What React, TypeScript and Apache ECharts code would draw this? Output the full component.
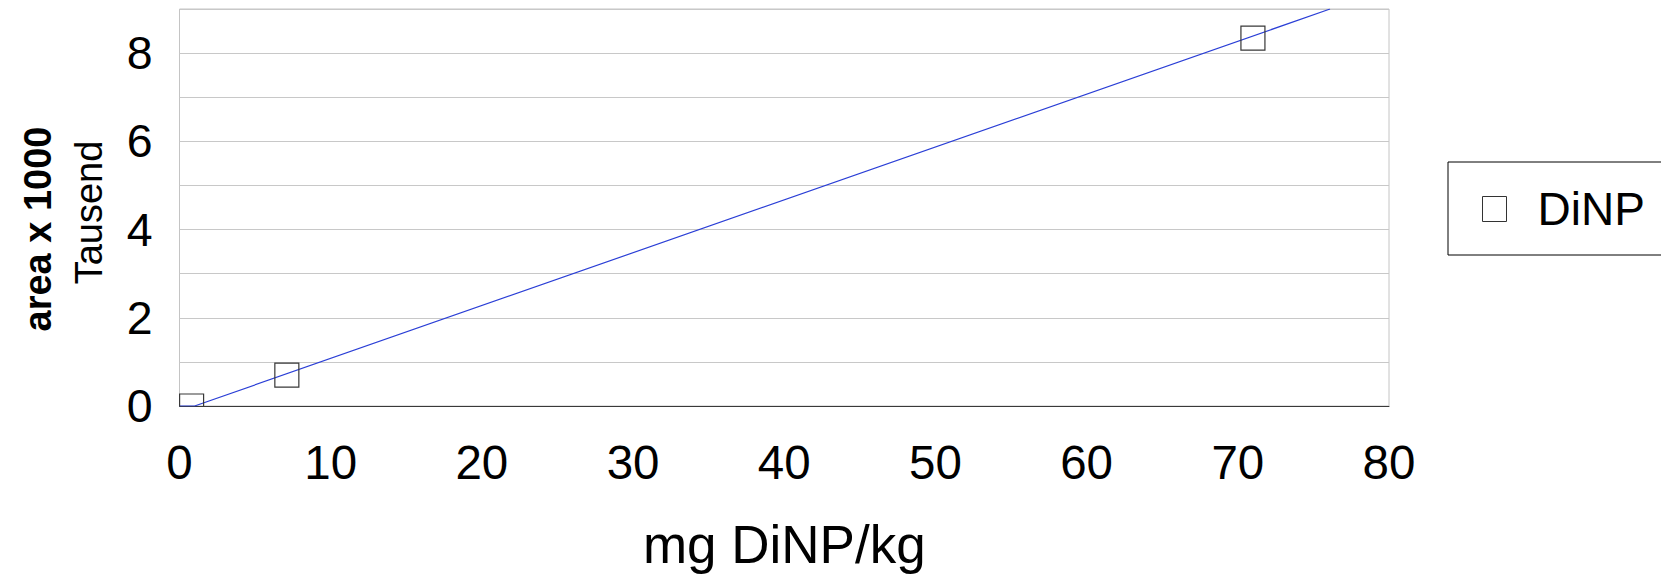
import React, { useEffect, useRef } from "react";
import * as echarts from "echarts";

// Measured points (mg DiNP/kg, area x 1000)
const markerX = [0.8, 7.1, 71.0];
const markerY = [0, 0.7, 8.34];

// Fitted line as drawn in the picture (visible segment)
const lineX = [0, 1.0, 76.1];
const lineY = [0, 0, 9.0];

const xTicks = [0, 10, 20, 30, 40, 50, 60, 70, 80];
const yLabelValues = [0, 2, 4, 6, 8];

const FONT = "'Liberation Sans', Arial, sans-serif";

export default function App() {
  const ref = useRef<HTMLDivElement>(null);

  useEffect(() => {
    if (!ref.current) return;
    const chart = echarts.init(ref.current, null, { renderer: "svg" });
    const markerData = markerX.map((x, i) => [x, markerY[i]]);
    const lineData = lineX.map((x, i) => [x, lineY[i]]);

    chart.setOption({
      animation: false,
      backgroundColor: "#ffffff",
      textStyle: { fontFamily: FONT },
      grid: {
        left: 179.5,
        right: 272,
        top: 9,
        bottom: 169.5,
        show: true,
        borderColor: "#c4c4c4",
        borderWidth: 1,
        backgroundColor: "transparent",
      },
      xAxis: {
        type: "value",
        min: xTicks[0],
        max: xTicks[xTicks.length - 1],
        interval: 10,
        axisLine: { show: true, onZero: false, lineStyle: { color: "#3a3a3a", width: 1 } },
        axisTick: { show: false },
        splitLine: { show: false },
        axisLabel: { fontSize: 47.5, color: "#000", margin: 32.5, fontFamily: FONT },
        name: "mg DiNP/kg",
        nameLocation: "middle",
        nameGap: 112,
        nameTextStyle: { fontSize: 53, color: "#000", fontFamily: FONT },
      },
      yAxis: {
        type: "value",
        min: 0,
        max: 9,
        interval: 1,
        axisLine: { show: false },
        axisTick: { show: false },
        splitLine: { show: true, lineStyle: { color: "#c8c8c8", width: 1 } },
        axisLabel: {
          fontSize: 46.5,
          color: "#000",
          margin: 27,
          fontFamily: FONT,
          formatter: (v: number) => (yLabelValues.indexOf(v) >= 0 ? String(v) : ""),
        },
      },
      legend: {
        left: 1448,
        top: 162,
        orient: "horizontal",
        padding: [24, 40, 23, 34],
        borderColor: "#000",
        borderWidth: 1,
        backgroundColor: "#fff",
        itemWidth: 24,
        itemHeight: 25,
        textStyle: { fontSize: 46, color: "#000", fontFamily: FONT, padding: [0, 0, 0, 26] },
        data: [
          {
            name: "DiNP",
            icon: "rect",
            itemStyle: { color: "#ffffff", borderColor: "#333333", borderWidth: 1 },
          },
        ],
      },
      graphic: [
        {
          type: "text",
          x: 37.5,
          y: 229,
          rotation: Math.PI / 2,
          style: {
            text: "area x 1000",
            font: `bold 38px ${FONT}`,
            fill: "#000",
            align: "center",
            verticalAlign: "middle",
          },
        },
        {
          type: "text",
          x: 89,
          y: 212.5,
          rotation: Math.PI / 2,
          style: {
            text: "Tausend",
            font: `38px ${FONT}`,
            fill: "#000",
            align: "center",
            verticalAlign: "middle",
          },
        },
      ],
      series: [
        {
          name: "trend",
          type: "line",
          data: lineData,
          showSymbol: false,
          symbol: "none",
          lineStyle: { color: "#2b3fd6", width: 1.2 },
          clip: true,
          z: 2,
          silent: true,
        },
        {
          name: "DiNP",
          type: "custom",
          clip: true,
          z: 3,
          data: markerData,
          itemStyle: { color: "#ffffff", borderColor: "#333333" },
          renderItem: (params: any, api: any) => {
            const p = api.coord([api.value(0), api.value(1)]);
            const s = 24;
            return {
              type: "rect",
              shape: { x: p[0] - s / 2, y: p[1] - s / 2, width: s, height: s },
              style: { fill: "none", stroke: "#383838", lineWidth: 1.2 },
            };
          },
        },
      ],
    });

    return () => chart.dispose();
  }, []);

  return (
    <div
      ref={ref}
      style={{ position: "fixed", left: 0, top: 0, width: 1661, height: 576, background: "#fff" }}
    />
  );
}
